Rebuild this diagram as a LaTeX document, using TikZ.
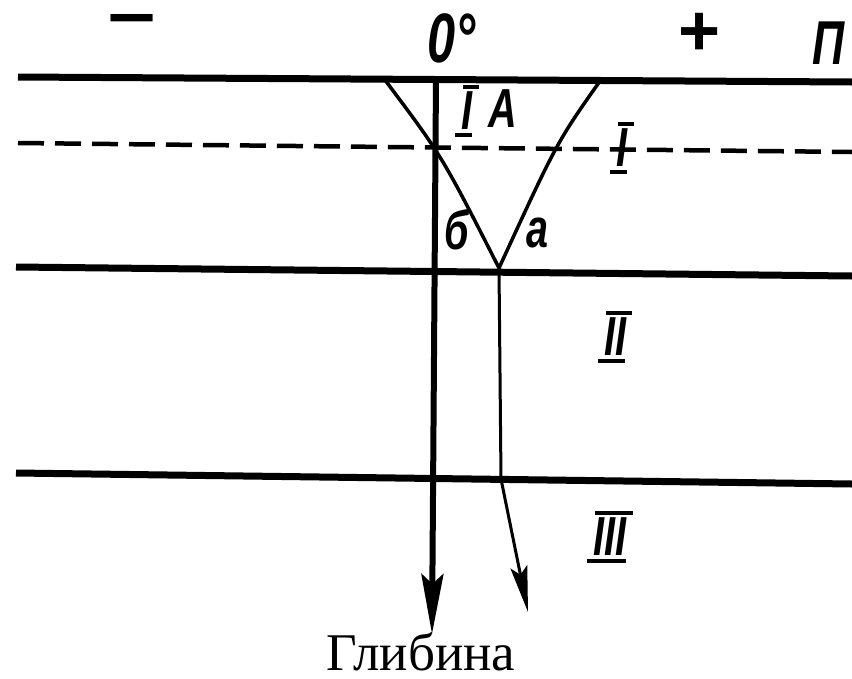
\documentclass[tikz,border=0pt]{standalone}
\usepackage{fontspec}
\setmainfont{Liberation Serif}
\newfontfamily\draftfont[FakeStretch=0.72]{Liberation Sans}
\newfontfamily\signfont{Liberation Sans}
\usetikzlibrary{arrows.meta}
\begin{document}
\begin{tikzpicture}[x=1pt,y=-1pt,
  lbl/.style={font=\draftfont\bfseries\itshape\fontsize{55}{55}\selectfont, inner sep=0pt},
  sign/.style={font=\signfont\bfseries\fontsize{72}{72}\selectfont, inner sep=0pt},
  bar/.style={line width=4pt},
  levelline/.style={line width=7pt},
  dashline/.style={line width=4.5pt, dash pattern=on 26pt off 11pt},
  curveline/.style={line width=3.5pt},
  thickarrow/.style={line width=6pt, -{Stealth[length=60pt,width=22pt,inset=10pt]}},
  thinarrow/.style={line width=3pt, -{Stealth[length=46pt,width=17pt,inset=8pt]}}]
\useasboundingbox (0,0) rectangle (852,678);
% levels
\coordinate (L0w) at (18,77);  \coordinate (L0e) at (852,82);
\coordinate (L1w) at (18,143); \coordinate (L1e) at (852,152);
\coordinate (L2w) at (16,267); \coordinate (L2e) at (852,276);
\coordinate (L3w) at (16,473); \coordinate (L3e) at (852,484);
\draw[levelline] (L0w) -- (L0e);
\draw[dashline] (L1w) -- (L1e);
\draw[levelline] (L2w) -- (L2e);
\draw[levelline] (L3w) -- (L3e);
% curves
\coordinate (bs) at (385,80);
\coordinate (as) at (600,81);
\coordinate (m) at (499,268);
\coordinate (bend) at (501,479);
\coordinate (atip) at (528,612);
\draw[curveline] (bs) .. controls (442,156) .. (m);
\draw[curveline] (as) .. controls (557,142) .. (m);
% arrows
\coordinate (vtop) at (436,78);
\coordinate (vtip) at (432,634);
\draw[thickarrow] (vtop) -- (vtip);
\draw[thinarrow] (m) -- (bend) -- (atip);
% labels
\node[font=\signfont\bfseries\fontsize{56}{56}\selectfont, inner sep=0pt, anchor=base] (minus) at (132,40) {\scalebox{1.5}[1.2]{−}};
\node[lbl] (zero) at (452,38) {\fontsize{70}{70}\selectfont 0°};
\node[sign] (plus) at (700,34) {+};
\node[lbl] (pe) at (829,43) {\fontsize{62}{62}\selectfont П};
\node[lbl] (r1a) at (467,111) {I};
\node[lbl] (A) at (503,109) {A};
\node[lbl] (r1) at (622,148) {I};
\node[lbl] (be) at (457,230) {б};
\node[lbl] (a) at (538,233) {a};
\node[lbl] (r2) at (615,337) {II};
\node[lbl] (r3) at (610,537) {III};
% bars of the roman numerals
\foreach \n in {r1a,r1,r2,r3}{
  \draw[bar] ([xshift=2pt,yshift=5pt]\n.north west) -- ([xshift=6pt,yshift=5pt]\n.north east);
  \draw[bar] ([xshift=-6pt,yshift=-5pt]\n.south west) -- ([xshift=-1pt,yshift=-5pt]\n.south east);
}
\node[font=\fontsize{53}{53}\selectfont, inner sep=0pt, anchor=base] (depth) at (421,670) {Глибина};
\end{tikzpicture}
\end{document}
